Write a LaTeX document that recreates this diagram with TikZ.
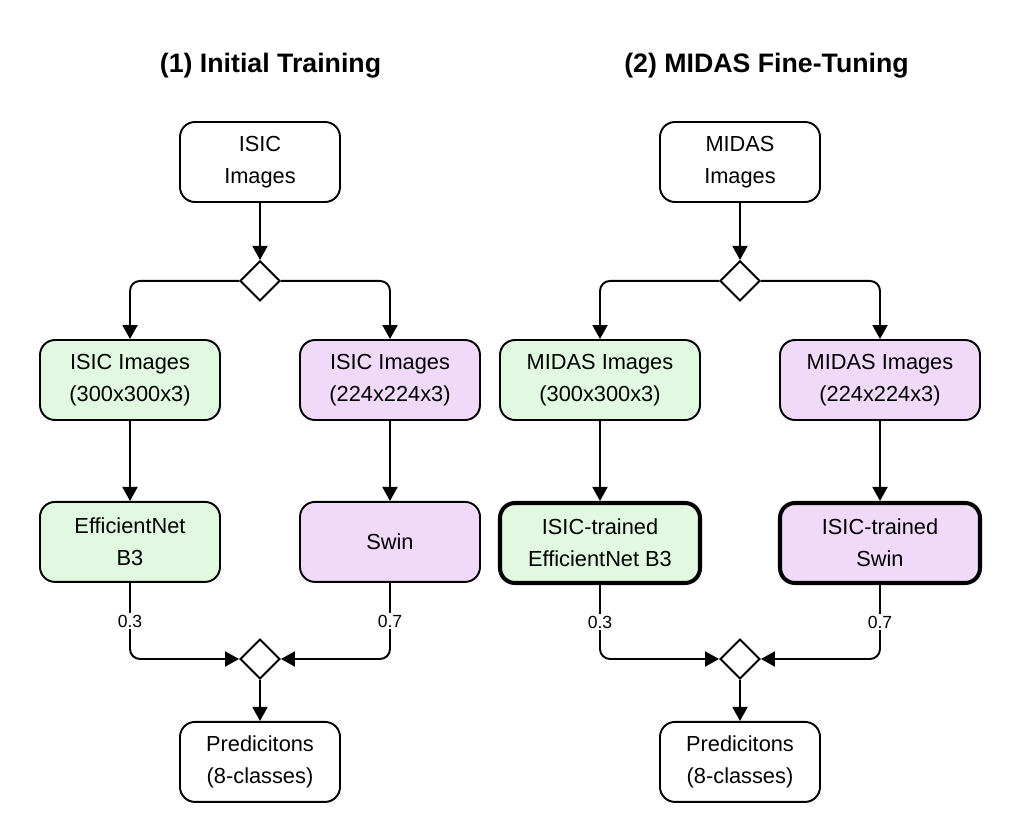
\documentclass[tikz,border=0pt]{standalone}
\usepackage{fontspec}
\setmainfont{Liberation Sans}
\usetikzlibrary{arrows.meta,positioning,shapes.geometric}

\definecolor{effgreen}{RGB}{225,248,225}
\definecolor{swinpurple}{RGB}{241,217,250}

\begin{document}
\begin{tikzpicture}[
    every node/.style={font=\fontsize{12.4}{18.2}\selectfont},
    box/.style={draw, line width=1.1pt, rounded corners=0.3cm, align=center, minimum height=1.6cm, minimum width=3.2cm, fill=white},
    effbox/.style={box, fill=effgreen, minimum width=3.6cm},
    swinbox/.style={box, fill=swinpurple, minimum width=3.6cm},
    trained/.style={line width=2.3pt},
    junction/.style={draw, line width=1.1pt, shape=diamond, minimum width=0.8cm, minimum height=0.8cm, inner sep=0pt, fill=white},
    title/.style={font=\fontsize{15.2}{18}\selectfont\bfseries},
    weight/.style={fill=white, inner sep=1pt, font=\fontsize{10}{12}\selectfont},
    flow/.style={-{Triangle[length=0.28cm, width=0.3cm]}, line width=1.1pt, rounded corners=0.2cm}
]
\useasboundingbox (0,0) rectangle (20.4,-16.8);

% (1) initial training
\node[title] (title1) at (5.41,-1.31) {(1) Initial Training};
\node[box] (isic) at (5.2,-3.24) {ISIC\\Images};
\node[junction, below=1.14cm of isic] (split1) {};
\node[effbox] (isic300) at (2.6,-7.6) {ISIC Images\\(300x300x3)};
\node[swinbox] (isic224) at (7.8,-7.6) {ISIC Images\\(224x224x3)};
\node[effbox, below=1.6cm of isic300] (effnet1) {EfficientNet\\B3};
\node[swinbox, below=1.6cm of isic224] (swin1) {Swin};
\node[junction] (merge1) at (5.2,-13.18) {};
\node[box, below=0.82cm of merge1] (pred1) {Predicitons\\(8-classes)};

\draw[flow] (isic) -- (split1);
\draw[flow] (split1.west) -| (isic300.north);
\draw[flow] (split1.east) -| (isic224.north);
\draw[flow] (isic300) -- (effnet1);
\draw[flow] (isic224) -- (swin1);
\draw[flow] (effnet1.south) |- node[weight, pos=0.25] {0.3} (merge1.west);
\draw[flow] (swin1.south) |- node[weight, pos=0.25] {0.7} (merge1.east);
\draw[flow] (merge1) -- (pred1);

% (2) midas fine-tuning
\node[title] (title2) at (15.33,-1.31) {(2) MIDAS Fine-Tuning};
\node[box] (midas) at (14.8,-3.24) {MIDAS\\Images};
\node[junction, below=1.14cm of midas] (split2) {};
\node[effbox, minimum width=4cm] (midas300) at (12.0,-7.6) {MIDAS Images\\(300x300x3)};
\node[swinbox, minimum width=4cm] (midas224) at (17.6,-7.6) {MIDAS Images\\(224x224x3)};
\node[effbox, trained, minimum width=4cm, below=1.6cm of midas300] (effnet2) {ISIC-trained\\EfficientNet B3};
\node[swinbox, trained, minimum width=4cm, below=1.6cm of midas224] (swin2) {ISIC-trained\\Swin};
\node[junction] (merge2) at (14.8,-13.18) {};
\node[box, below=0.82cm of merge2] (pred2) {Predicitons\\(8-classes)};

\draw[flow] (midas) -- (split2);
\draw[flow] (split2.west) -| (midas300.north);
\draw[flow] (split2.east) -| (midas224.north);
\draw[flow] (midas300) -- (effnet2);
\draw[flow] (midas224) -- (swin2);
\draw[flow] (effnet2.south) |- node[weight, pos=0.25] {0.3} (merge2.west);
\draw[flow] (swin2.south) |- node[weight, pos=0.25] {0.7} (merge2.east);
\draw[flow] (merge2) -- (pred2);
\end{tikzpicture}
\end{document}
